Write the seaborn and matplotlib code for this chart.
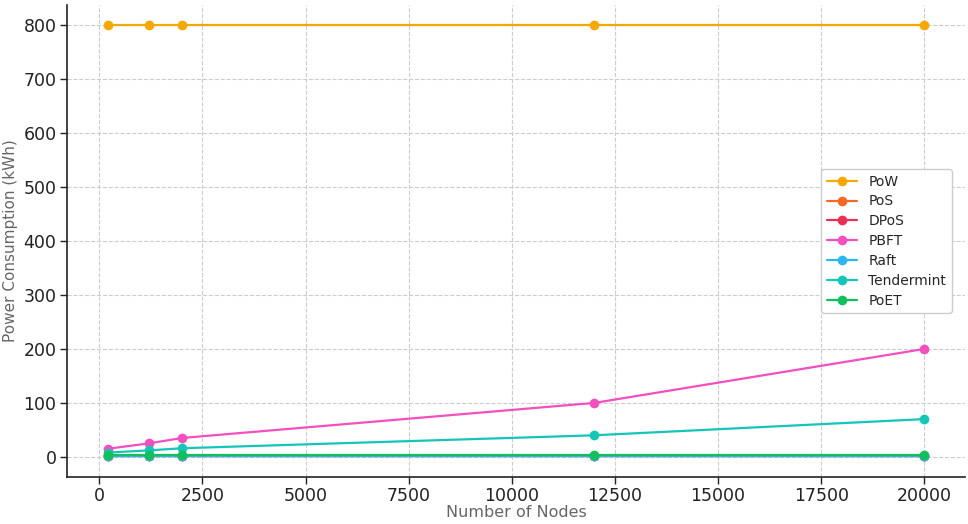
import numpy as np
import pandas as pd
import matplotlib
matplotlib.use('Agg')
import matplotlib.pyplot as plt
import seaborn as sns

sns.set_theme(style='whitegrid')
plt.rcParams['font.family'] = ['DejaVu Sans']

# Data
nodes = [200, 1200, 2000, 12000, 20000]
pow_kwh = [800, 800, 800, 800, 800]
pos_kwh = [2, 2, 2, 2, 2]
dpos_kwh = [2.5, 2.5, 2.5, 2.5, 2.5]
pbft_kwh = [15, 25, 35, 100, 200]
raft_kwh = [2, 2, 2, 2, 2]
tendermint_kwh = [8, 12, 16, 40, 70]
poet_kwh = [3, 3, 3, 3, 3]

series = {
    'PoW': pow_kwh,
    'PoS': pos_kwh,
    'DPoS': dpos_kwh,
    'PBFT': pbft_kwh,
    'Raft': raft_kwh,
    'Tendermint': tendermint_kwh,
    'PoET': poet_kwh,
}
colors = {
    'PoW': '#f7a800',
    'PoS': '#f46a25',
    'DPoS': '#ec2d55',
    'PBFT': '#f24fbf',
    'Raft': '#2bb6f5',
    'Tendermint': '#14c6b8',
    'PoET': '#11bf5c',
}

rows = []
for name, vals in series.items():
    for n, v in zip(nodes, vals):
        rows.append({'Nodes': n, 'Power': v, 'Consensus': name})
df = pd.DataFrame(rows)

fig = plt.figure(figsize=(9.68, 5.24), dpi=100)
ax = fig.add_axes([0.069, 0.09, 0.928, 0.90])

sns.lineplot(data=df, x='Nodes', y='Power', hue='Consensus', palette=colors,
             marker='o', markersize=7, markeredgewidth=0, linewidth=1.6, ax=ax)

ax.set_facecolor('white')
ax.set_ylim(-37, 837)
ax.grid(True, linestyle='--', color='#cccccc', linewidth=0.8)
for side in ['top', 'right']:
    ax.spines[side].set_visible(False)
for side in ['left', 'bottom']:
    ax.spines[side].set_color('#222222')
    ax.spines[side].set_linewidth(1.2)

ax.tick_params(axis='both', labelsize=12.5, colors='#222222', length=5, width=1,
               left=True, bottom=True, pad=2.5)
ax.set_xlabel('Number of Nodes', fontsize=11.5, color='#666666', labelpad=0)
ax.set_ylabel('Power Consumption (kWh)', fontsize=11, color='#666666', labelpad=4)
ax.set_xticks([0, 2500, 5000, 7500, 10000, 12500, 15000, 17500, 20000])
ax.set_yticks([0, 100, 200, 300, 400, 500, 600, 700, 800])

ax.legend(title=None, loc='center right', bbox_to_anchor=(0.993, 0.50), fontsize=10,
          frameon=True, edgecolor='#cccccc', framealpha=1, labelspacing=0.42,
          handlelength=2.2)

fig.savefig('out.png', dpi=100)
